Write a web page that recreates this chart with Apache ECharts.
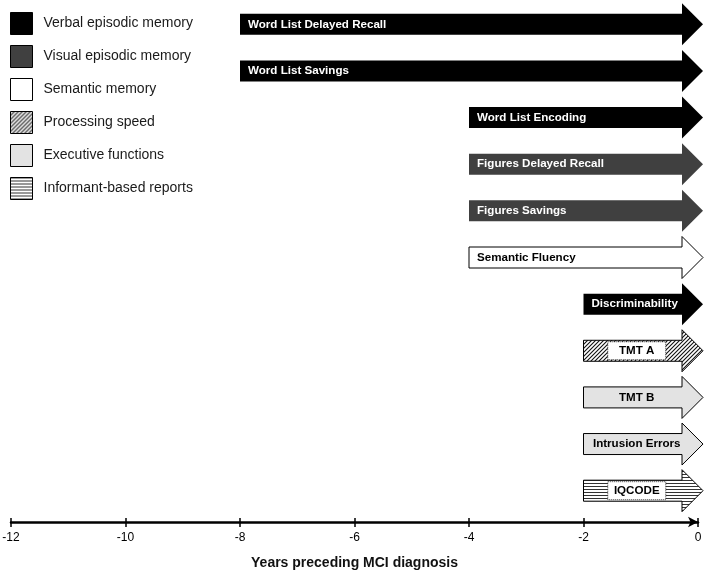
<!DOCTYPE html>
<html>
<head>
<meta charset="utf-8">
<script src="https://cdn.jsdelivr.net/npm/echarts@6/dist/echarts.min.js"></script>
<style>
html,body{margin:0;padding:0;background:#fff;}
#chart{width:708px;height:572px;}
</style>
</head>
<body>
<div id="chart"></div>
<script>
// ---- data ----
const domains = ['Verbal episodic memory', 'Visual episodic memory', 'Semantic memory',
  'Processing speed', 'Executive functions', 'Informant-based reports'];
const measures = ['Word List Delayed Recall', 'Word List Savings', 'Word List Encoding',
  'Figures Delayed Recall', 'Figures Savings', 'Semantic Fluency', 'Discriminability',
  'TMT A', 'TMT B', 'Intrusion Errors', 'IQCODE'];
const measureDomain = [0, 0, 0, 1, 1, 2, 0, 3, 4, 4, 5];
const onsetYears = [-8, -8, -4, -4, -4, -4, -2, -2, -2, -2, -2];
const diagnosisYear = 0;
const xTicks = [-12, -10, -8, -6, -4, -2, 0];

// ---- patterns ----
function makeHatch() {
  const c = document.createElement('canvas');
  c.width = 4; c.height = 4;
  const g = c.getContext('2d');
  g.fillStyle = '#fff'; g.fillRect(0, 0, 4, 4);
  g.strokeStyle = '#111'; g.lineWidth = 1.1;
  g.beginPath();
  g.moveTo(-1, 5); g.lineTo(5, -1);
  g.moveTo(-1, 1); g.lineTo(1, -1);
  g.moveTo(3, 5); g.lineTo(5, 3);
  g.stroke();
  return { image: c, repeat: 'repeat' };
}
function makeStripes() {
  const c = document.createElement('canvas');
  c.width = 4; c.height = 3;
  const g = c.getContext('2d');
  g.fillStyle = '#fff'; g.fillRect(0, 0, 4, 3);
  g.fillStyle = '#333'; g.fillRect(0, 0, 4, 1);
  return { image: c, repeat: 'repeat' };
}

const domainStyle = [
  { fill: '#000000', stroke: null, text: '#fff', center: false, box: false },
  { fill: '#404040', stroke: null, text: '#fff', center: false, box: false },
  { fill: '#ffffff', stroke: '#000', text: '#000', center: false, box: false },
  { fill: makeHatch(), stroke: '#000', text: '#000', center: true, box: true },
  { fill: '#e3e3e3', stroke: '#000', text: '#000', center: true, box: false },
  { fill: makeStripes(), stroke: '#000', text: '#000', center: true, box: true }
];

const FONT = '"Liberation Sans", Arial, sans-serif';

function renderArrow(params, api) {
  const row = api.value(2);
  const d = api.value(3);
  const st = domainStyle[d];
  const p0 = api.coord([api.value(0), row]);
  const p1 = api.coord([api.value(1), row]);
  const x0 = p0[0], y = p0[1];
  const xb = p1[0] - 16, xt = p1[0] + 5;
  const bh = 10.5, hh = 21;
  const children = [{
    type: 'polygon',
    shape: { points: [[x0, y - bh], [xb, y - bh], [xb, y - hh], [xt, y], [xb, y + hh], [xb, y + bh], [x0, y + bh]] },
    style: { fill: st.fill, stroke: st.stroke || st.fill, lineWidth: st.stroke ? 1 : 0 }
  }];
  const tx = st.center ? (x0 + xb) / 2 + 4 : x0 + 8;
  if (st.box) {
    children.push({
      type: 'rect',
      shape: { x: tx - 29, y: y - bh + 1.5, width: 58, height: 2 * bh - 3 },
      style: { fill: '#fff', stroke: '#000', lineWidth: 0.8, lineDash: [1, 1] }
    });
  }
  children.push({
    type: 'text',
    style: {
      x: tx, y: y, text: measures[row],
      fill: st.text, font: 'bold 11.6px ' + FONT,
      align: st.center ? 'center' : 'left', verticalAlign: 'middle'
    }
  });
  return { type: 'group', children: children };
}

const series = domains.map((name, d) => ({
  name: name,
  type: 'custom',
  xAxisIndex: 0,
  yAxisIndex: 0,
  renderItem: renderArrow,
  itemStyle: { color: domainStyle[d].fill, borderColor: '#000', borderWidth: 1 },
  encode: { x: [0, 1], y: 2 },
  clip: false,
  data: measures.map((m, i) => i).filter(i => measureDomain[i] === d)
    .map(i => [onsetYears[i], diagnosisYear, i, d])
}));

const chart = echarts.init(document.getElementById('chart'), null, { renderer: 'canvas' });
chart.setOption({
  animation: false,
  backgroundColor: '#fff',
  legend: {
    orient: 'vertical',
    left: 10,
    top: 12,
    padding: 0,
    itemWidth: 22,
    itemHeight: 22,
    itemGap: 10,
    icon: 'rect',
    selectedMode: false,
    textStyle: { fontSize: 14, color: '#1a1a1a', fontFamily: FONT, padding: [0, 0, 0, 6] },
    data: domains.map((name, d) => ({
      name: name,
      icon: 'rect',
      itemStyle: { color: domainStyle[d].fill, borderColor: '#000', borderWidth: 1 }
    }))
  },
  grid: [
    { left: 11, right: 10, top: 1, bottom: 58, containLabel: false, outerBoundsMode: 'none' },
    { left: 11, right: 10, top: 1, bottom: 50, containLabel: false, outerBoundsMode: 'none' }
  ],
  xAxis: [{
    type: 'value', gridIndex: 0, min: -12, max: 0, interval: 2,
    position: 'bottom', offset: 8,
    axisLine: { show: true, symbol: ['none', 'arrow'], symbolSize: [8, 10],
      lineStyle: { color: '#000', width: 2.5 } },
    axisTick: { show: true, length: 5, lineStyle: { color: '#000', width: 1.5 } },
    axisLabel: { show: true, color: '#000', fontSize: 12, fontFamily: FONT, margin: 10,
      customValues: xTicks },
    splitLine: { show: false },
    name: 'Years preceding MCI diagnosis',
    nameLocation: 'middle',
    nameGap: 34,
    nameTextStyle: { fontSize: 14, fontWeight: 'bold', color: '#111', fontFamily: FONT }
  }, {
    type: 'value', gridIndex: 1, min: -12, max: 0, interval: 2,
    position: 'bottom', offset: 0,
    axisLine: { show: false },
    axisTick: { show: true, inside: true, length: 4, lineStyle: { color: '#000', width: 1.5 } },
    axisLabel: { show: false },
    splitLine: { show: false }
  }],
  yAxis: [{
    type: 'category', gridIndex: 0, data: measures, inverse: true, show: false
  }, {
    type: 'value', gridIndex: 1, show: false
  }],
  series: series
});
</script>
</body>
</html>
